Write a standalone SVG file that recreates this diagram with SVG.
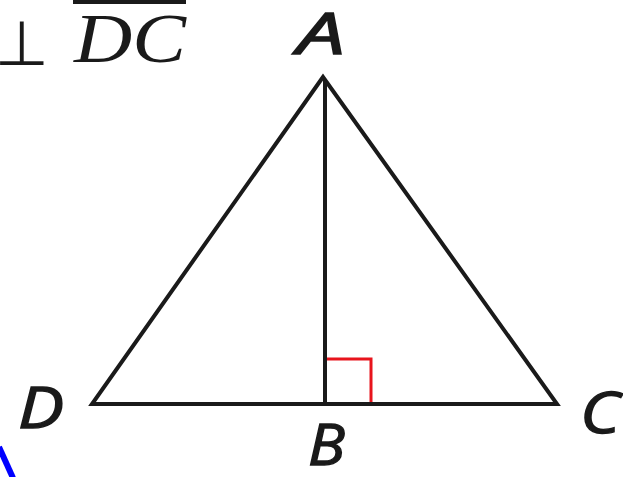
<svg xmlns="http://www.w3.org/2000/svg" width="623" height="477" viewBox="0 0 623 477">
<style>
.lbl{font-family:"Open Sans","Liberation Sans",sans-serif;font-style:italic;font-weight:400;font-size:56px;fill:#1a1a1a;stroke:#1a1a1a;stroke-width:1.3}
.ser{font-family:"Liberation Serif",serif;font-style:italic;font-size:70px;fill:#1a1a1a}
.ln{stroke:#1a1a1a;stroke-width:4;fill:none;stroke-linejoin:miter}
</style>
<rect width="623" height="477" fill="#fff"/>
<g id="header">
<text x="-5" y="65" font-family="DejaVu Sans,sans-serif" font-size="62" fill="#1a1a1a">⊥</text>
<line x1="73" y1="2" x2="186" y2="2" stroke="#1a1a1a" stroke-width="4"/>
<text class="ser" x="74" y="62" textLength="112" lengthAdjust="spacingAndGlyphs">DC</text>
</g>
<g id="connectors">
<polygon class="ln" points="323,77 92,404 557,404"/>
<line class="ln" x1="325" y1="80" x2="325" y2="404"/>
<polyline points="327,359 371,359 371,402" fill="none" stroke="#e8141c" stroke-width="3"/>
</g>
<g id="A"><text class="lbl" x="297" y="54" textLength="48" lengthAdjust="spacingAndGlyphs">A</text></g>
<g id="D"><text class="lbl" x="18" y="428" textLength="46" lengthAdjust="spacingAndGlyphs">D</text></g>
<g id="C"><text class="lbl" x="580" y="433" textLength="40" lengthAdjust="spacingAndGlyphs">C</text></g>
<g id="B"><text class="lbl" x="308" y="465" textLength="37" lengthAdjust="spacingAndGlyphs">B</text></g>
<line x1="-1" y1="447" x2="13" y2="478" stroke="#0000ff" stroke-width="6"/>
</svg>
